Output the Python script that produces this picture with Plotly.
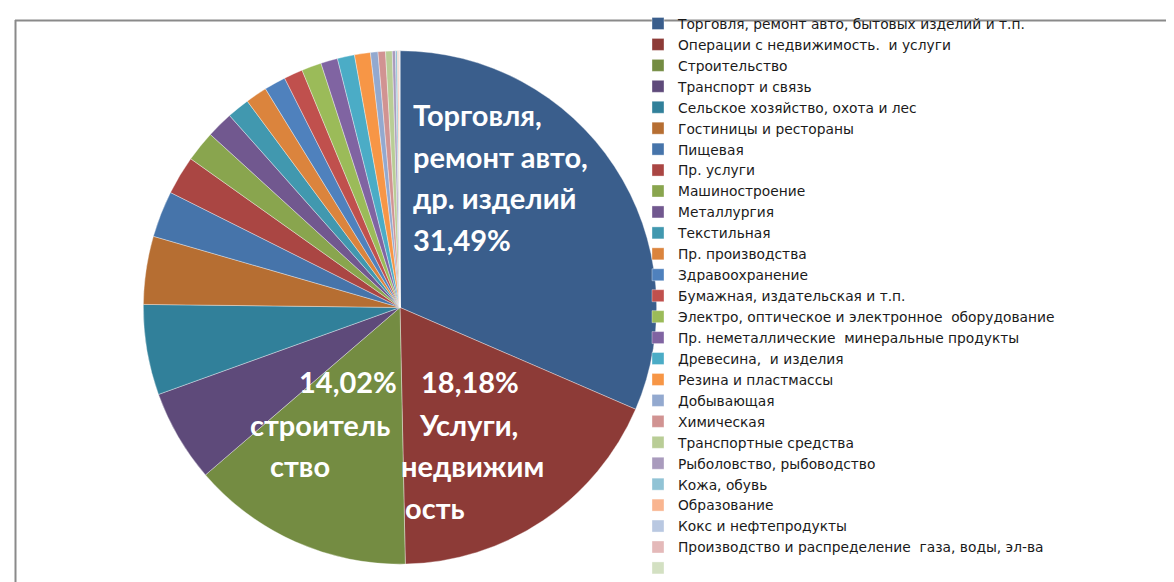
import plotly.graph_objects as go

labels = [
    "Торговля, ремонт авто, бытовых изделий и т.п.",
    "Операции с недвижимость.  и услуги",
    "Строительство",
    "Транспорт и связь",
    "Сельское хозяйство, охота и лес",
    "Гостиницы и рестораны",
    "Пищевая",
    "Пр. услуги",
    "Машиностроение",
    "Металлургия",
    "Текстильная",
    "Пр. производства",
    "Здравоохранение",
    "Бумажная, издательская и т.п.",
    "Электро, оптическое и электронное  оборудование",
    "Пр. неметаллические  минеральные продукты",
    "Древесина,  и изделия",
    "Резина и пластмассы",
    "Добывающая",
    "Химическая",
    "Транспортные средства",
    "Рыболовство, рыбоводство",
    "Кожа, обувь",
    "Образование",
    "Кокс и нефтепродукты",
    "Производство и распределение  газа, воды, эл-ва",
    " ",
]
values = [31.49, 18.18, 14.02, 5.81, 5.69, 4.28, 2.92, 2.44, 1.94, 1.67, 1.42,
          1.36, 1.36, 1.19, 1.25, 1.06, 1.08, 1.00, 0.47, 0.47, 0.42,
          0.20, 0.12, 0.08, 0.04, 0.03, 0.01]
colors = ["#3A5E8C", "#8D3B37", "#748C42", "#5E4A7A", "#31809A", "#B66E32",
          "#4674AA", "#AA4643", "#89A54E", "#71588F", "#4198AF", "#DB843D",
          "#4F81BD", "#C0504D", "#9BBB59", "#8064A2", "#4BACC6", "#F79646",
          "#93A9CF", "#D19392", "#B9CD96", "#A99BBD", "#91C3D5", "#F9B590",
          "#B9C8E1", "#E4B9B9", "#D3E0C2"]

W, H = 1174, 582
cx, cy, r = 392, 298, 258

fig = go.Figure(go.Pie(
    labels=labels, values=values, sort=False, direction="clockwise", rotation=0,
    marker=dict(colors=colors, line=dict(color="rgba(255,255,255,0.6)", width=0.6)),
    textinfo="none", hoverinfo="label+percent",
    domain=dict(x=[(cx - r) / W, (cx + r) / W], y=[(H - cy - r) / H, (H - cy + r) / H]),
))

label_font = dict(family="Lato, Noto Sans, sans-serif", size=29, color="white")
big_labels = [
    ("<b>Торговля,</b>", 403, 104, "left"),
    ("<b>ремонт авто,</b>", 403, 146, "left"),
    ("<b>др. изделий</b>", 403, 187, "left"),
    ("<b>31,49%</b>", 403, 230, "left"),
    ("<b>18,18%</b>", 462, 372, "center"),
    ("<b>Услуги,</b>", 460, 416, "center"),
    ("<b>недвижим</b>", 391, 457, "left"),
    ("<b>ость</b>", 395, 499, "left"),
    ("<b>14,02%</b>", 340, 372, "center"),
    ("<b>строитель</b>", 312, 416, "center"),
    ("<b>ство</b>", 292, 457, "center"),
]
annotations = []
for txt, x, y, al in big_labels:
    annotations.append(dict(
        text=txt, x=x / W, y=1 - y / H, xref="paper", yref="paper",
        xanchor=al, yanchor="middle", showarrow=False, font=label_font,
    ))

fig.update_layout(
    width=W, height=H,
    margin=dict(l=0, r=0, t=0, b=0),
    paper_bgcolor="white", plot_bgcolor="white",
    showlegend=True,
    legend=dict(
        x=630 / W, y=1 + 3 / H, xanchor="left", yanchor="top",
        bgcolor="rgba(0,0,0,0)",
        font=dict(family="DejaVu Sans, sans-serif", size=13.8, color="#1a1a1a"),
        itemclick=False, tracegroupgap=0, maxheight=700,
    ),
    annotations=annotations,
    shapes=[
        dict(type="line", xref="paper", yref="paper", x0=7 / W, x1=1, y0=1 - 9.5 / H, y1=1 - 9.5 / H,
             line=dict(color="#8a8a8a", width=2), layer="below"),
        dict(type="line", xref="paper", yref="paper", x0=7.5 / W, x1=7.5 / W, y0=0, y1=1 - 9 / H,
             line=dict(color="#8a8a8a", width=2), layer="below"),
    ],
)

fig.write_html("out.html")
